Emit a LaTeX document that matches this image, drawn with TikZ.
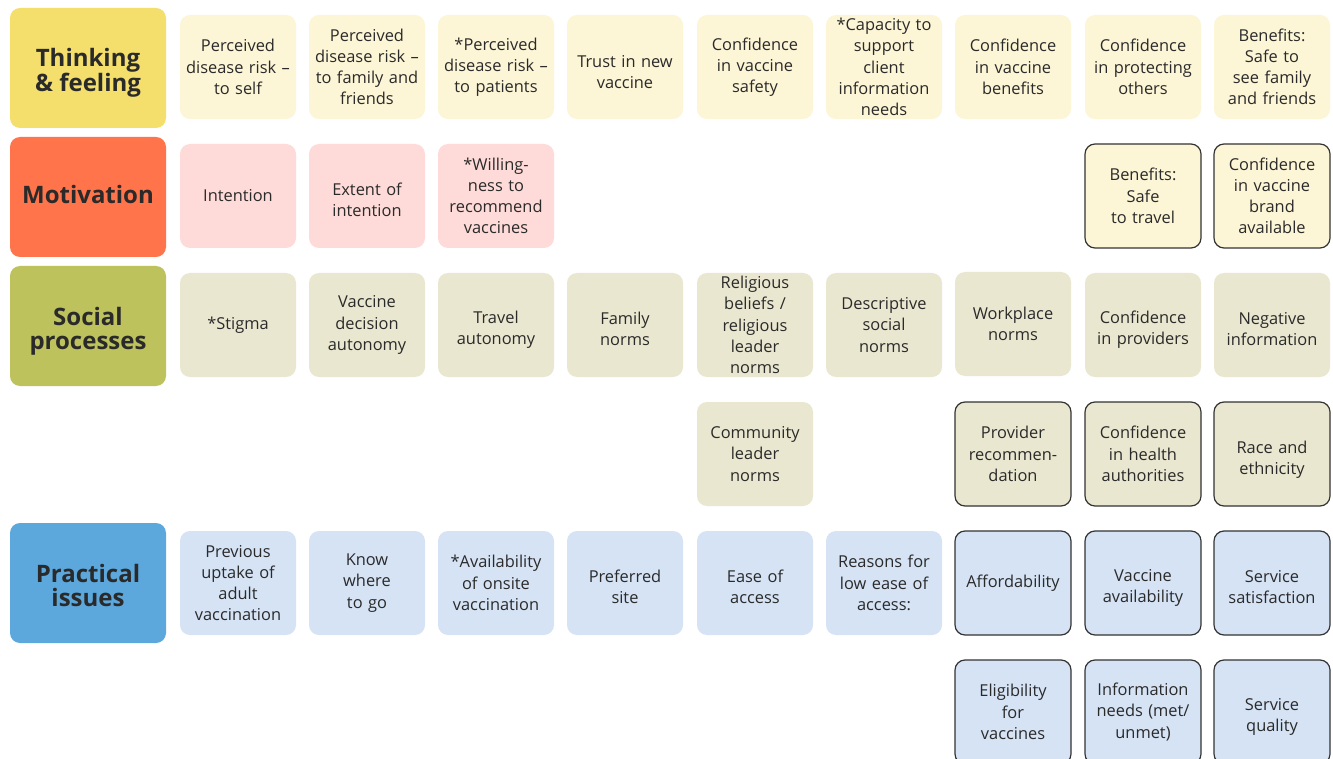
\documentclass[tikz,border=0pt]{standalone}
\usepackage{fontspec}
\setmainfont{Open Sans}
\definecolor{tfcat}{HTML}{F4DF6C}
\definecolor{tfitem}{HTML}{FCF5D6}
\definecolor{mocat}{HTML}{FF744A}
\definecolor{moitem}{HTML}{FEDBD8}
\definecolor{spcat}{HTML}{BDC25C}
\definecolor{spitem}{HTML}{EAE7D0}
\definecolor{picat}{HTML}{5CA8DD}
\definecolor{piitem}{HTML}{D5E3F5}
\definecolor{txt}{HTML}{2A2A2A}
\definecolor{bord}{HTML}{333333}
\tikzset{
  cat/.style={rounded corners=10pt, minimum width=156pt, minimum height=120pt, inner sep=0pt,
    align=center, text=txt, font=\fontsize{24}{24}\selectfont\bfseries},
  item/.style={rounded corners=10pt, minimum width=116pt, minimum height=104pt, inner sep=0pt,
    align=center, text=txt, text width=115pt, font=\fontsize{16.4}{21.2}\selectfont},
  bordered/.style={draw=bord, line width=1.2pt},
  lowtext/.style={text depth=9pt, text height=12pt},
}
\begin{document}
\begin{tikzpicture}[x=1pt,y=-1pt]
\useasboundingbox (0,0) rectangle (1333,759);
\fill[white] (0,0) rectangle (1333,759);
% categories
\fill[tfcat, rounded corners=10pt] (10,8) rectangle (166,128);
\node[cat] (tf) at (88,73) {Thinking\\\& feeling};
\fill[mocat, rounded corners=10pt] (10,137) rectangle (166,257);
\node[cat] (mo) at (88,195) {Motivation};
\fill[spcat, rounded corners=10pt] (10,266) rectangle (166,386);
\node[cat] (sp) at (88,331) {Social\\processes};
\fill[picat, rounded corners=10pt] (10,523) rectangle (166,643);
\node[cat] (pi) at (88,585) {Practical\\issues};
% row 1
\node[item, fill=tfitem] (a1) at (238,67) {Perceived\\disease risk –\\to self};
\node[item, fill=tfitem] (a2) at (367,67) {Perceived\\disease risk –\\to family and\\friends};
\node[item, fill=tfitem] (a3) at (496,67) {*Perceived\\disease risk –\\to patients};
\fill[tfitem, rounded corners=10pt] (567,15) rectangle (683,119);
\node[item] (a4) at (625,72) {Trust in new\\vaccine};
\node[item, fill=tfitem] (a5) at (755,67) {Confidence\\in vaccine\\safety};
\node[item, fill=tfitem] (a6) at (884,67) {*Capacity to\\support\\client\\information\\needs};
\node[item, fill=tfitem] (a7) at (1013,67) {Confidence\\in vaccine\\benefits};
\node[item, fill=tfitem] (a8) at (1143,67) {Confidence\\in protecting\\others};
\node[item, fill=tfitem] (a9) at (1272,67) {Benefits:\\Safe to\\see family\\and friends};
% row 2
\node[item, fill=moitem] (b1) at (238,196) {Intention};
\fill[moitem, rounded corners=10pt] (309,144) rectangle (425,248);
\node[item] (b2) at (367,200) {Extent of\\intention};
\node[item, fill=moitem] (b3) at (496,196) {*Willing-\\ness to\\recommend\\vaccines};
\node[item, bordered, fill=tfitem] (b8) at (1143,196) {Benefits:\\Safe\\to travel};
\node[item, bordered, fill=tfitem] (b9) at (1272,196) {Confidence\\in vaccine\\brand\\available};
% row 3
\node[item, fill=spitem] (c1) at (238,325) {*Stigma};
\node[item, fill=spitem] (c2) at (367,325) {Vaccine\\decision\\autonomy};
\fill[spitem, rounded corners=10pt] (438,273) rectangle (554,377);
\node[item] (c3) at (496,330) {Travel\\autonomy};
\fill[spitem, rounded corners=10pt] (567,273) rectangle (683,377);
\node[item] (c4) at (625,329) {Family\\norms};
\node[item, fill=spitem] (c5) at (755,325) {Religious\\beliefs /\\religious\\leader\\norms};
\node[item, fill=spitem] (c6) at (884,325) {Descriptive\\social\\norms};
\node[item, fill=spitem] (c7) at (1013,324) {Workplace\\norms};
\fill[spitem, rounded corners=10pt] (1085,273) rectangle (1201,377);
\node[item] (c8) at (1143,330) {Confidence\\in providers};
\fill[spitem, rounded corners=10pt] (1214,273) rectangle (1330,377);
\node[item] (c9) at (1272,329) {Negative\\information};
% row 4
\node[item, fill=spitem] (d5) at (755,454) {Community\\leader\\norms};
\node[item, bordered, fill=spitem] (d7) at (1013,454) {Provider\\recommen-\\dation};
\node[item, bordered, fill=spitem] (d8) at (1143,454) {Confidence\\in health\\authorities};
\draw[bord, line width=1.2pt, fill=spitem, rounded corners=10pt] (1214,402) rectangle (1330,506);
\node[item] (d9) at (1272,460) {Race and\\ethnicity};
% row 5
\node[item, fill=piitem] (e1) at (238,583) {Previous\\uptake of\\adult\\vaccination};
\node[item, fill=piitem] (e2) at (367,583) {Know\\where\\to go};
\node[item, fill=piitem] (e3) at (496,583) {*Availability\\of onsite\\vaccination};
\fill[piitem, rounded corners=10pt] (567,531) rectangle (683,635);
\node[item] (e4) at (625,587) {Preferred\\site};
\fill[piitem, rounded corners=10pt] (697,531) rectangle (813,635);
\node[item] (e5) at (755,587) {Ease of\\access};
\node[item, fill=piitem] (e6) at (884,583) {Reasons for\\low ease of\\access:};
\node[item, bordered, fill=piitem] (e7) at (1013,583) {Affordability};
\draw[bord, line width=1.2pt, fill=piitem, rounded corners=10pt] (1085,531) rectangle (1201,635);
\node[item] (e8) at (1143,588) {Vaccine\\availability};
\draw[bord, line width=1.2pt, fill=piitem, rounded corners=10pt] (1214,531) rectangle (1330,635);
\node[item] (e9) at (1272,587) {Service\\satisfaction};
% row 6
\node[item, bordered, fill=piitem] (f7) at (1013,712) {Eligibility\\for\\vaccines};
\node[item, bordered, fill=piitem] (f8) at (1143,712) {Information\\needs (met/\\unmet)};
\draw[bord, line width=1.2pt, fill=piitem, rounded corners=10pt] (1214,660) rectangle (1330,764);
\node[item] (f9) at (1272,717) {Service\\quality};
\end{tikzpicture}
\end{document}
